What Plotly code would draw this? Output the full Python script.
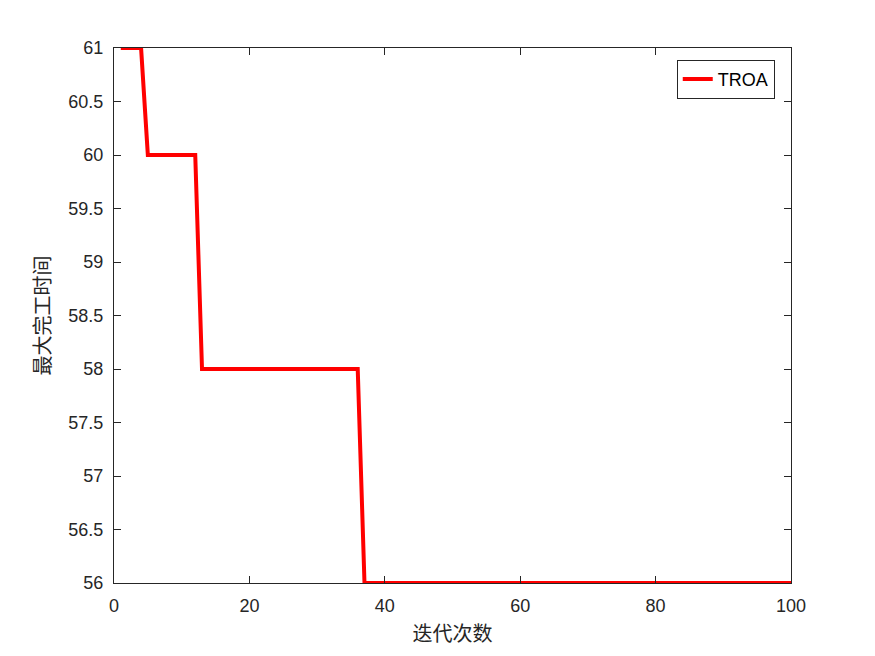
import plotly.graph_objects as go

iterations = list(range(1, 101))
makespan = [61] * 4 + [60] * 8 + [58] * 24 + [56] * 64
series_name = "TROA"
x_title = "迭代次数"
y_title = "最大完工时间"
x_ticks = [0, 20, 40, 60, 80, 100]
y_ticks = [56, 56.5, 57, 57.5, 58, 58.5, 59, 59.5, 60, 60.5, 61]

fig = go.Figure()
fig.add_trace(go.Scatter(x=iterations, y=makespan, mode="lines", name=series_name,
                         line=dict(color="#ff0000", width=4)))

axis_common = dict(showline=True, linecolor="#262626", linewidth=1, mirror="ticks",
                   ticks="inside", ticklen=7, tickcolor="#262626", showgrid=False,
                   zeroline=False, ticklabelstandoff=6,
                   tickfont=dict(family="Liberation Sans, Arial", size=18, color="#262626"))

fig.update_layout(
    width=867, height=648,
    paper_bgcolor="white", plot_bgcolor="white",
    margin=dict(l=106, r=84, t=40, b=73),
    xaxis=dict(range=[0, 100], tickvals=x_ticks,
               title=dict(text=x_title, font=dict(family="Noto Sans CJK SC", size=20, color="#262626"), standoff=12),
               **axis_common),
    yaxis=dict(range=[56, 61], tickvals=y_ticks, ticktext=[f"{v:g}" for v in y_ticks],
               title=dict(text=y_title, font=dict(family="Noto Sans CJK SC", size=20, color="#262626"), standoff=12),
               **axis_common),
    legend=dict(x=0.976, y=0.978, xanchor="right", yanchor="top", bordercolor="#262626", borderwidth=1,
                bgcolor="white", font=dict(family="Liberation Sans, Arial", size=18, color="#000000")),
    showlegend=True,
)

fig.write_html("out.html")
